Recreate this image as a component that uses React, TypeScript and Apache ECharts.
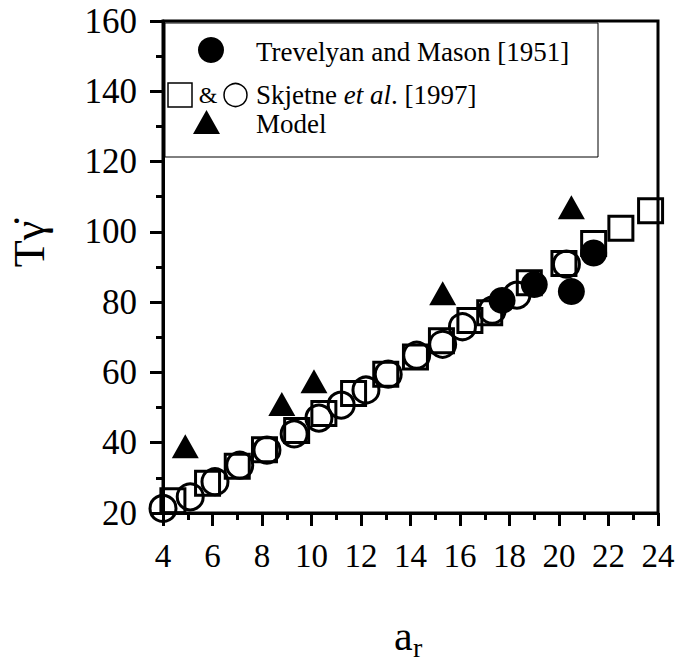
import React, { useEffect, useRef } from "react";
import * as echarts from "echarts";

// Skjetne et al. [1997] – open squares
const skjetneSquares: number[][] = [
  [4.4, 23.5], [5.8, 28.5], [7.0, 33.3], [8.1, 38], [9.4, 43.5], [10.5, 48.3],
  [11.7, 54], [13.0, 59.5], [14.2, 64.4], [15.25, 69], [16.4, 74.8], [17.2, 77],
  [18.8, 85.5], [20.2, 91], [21.4, 96.7], [22.5, 101], [23.7, 106],
];
// Skjetne et al. [1997] – open circles
const skjetneCircles: number[][] = [
  [4.0, 21.3], [5.1, 24.6], [6.1, 28.9], [7.1, 33.6], [8.2, 37.9], [9.3, 42.5],
  [10.3, 47], [11.2, 50.7], [12.2, 55], [13.1, 59.5], [14.25, 64.9], [15.3, 68],
  [16.1, 73], [17.3, 77.7], [18.3, 82], [20.3, 90.8],
];
// Trevelyan and Mason [1951] – filled circles
const trevelyan: number[][] = [[17.7, 80.5], [19.0, 85], [20.5, 83], [21.4, 94]];
// Model – filled triangles
const model: number[][] = [[4.9, 39], [8.8, 51], [10.1, 57.5], [15.3, 82.5], [20.5, 107]];

const xRange = { min: 4, max: 24, interval: 2 };
const yRange = { min: 20, max: 160, interval: 20 };

const legendLabels = ["Trevelyan and Mason [1951]", "Skjetne", "et al", ". [1997]", "Model"];

const FONT = "Liberation Serif, Times New Roman, serif";

export default function App() {
  const ref = useRef<HTMLDivElement>(null);
  useEffect(() => {
    if (!ref.current) return;
    const chart = echarts.init(ref.current, undefined, { renderer: "svg" });
    const axisCommon = {
      type: "value" as const,
      axisLine: { show: true, onZero: false, lineStyle: { color: "#000", width: 3 } },
      axisTick: { show: true, length: 13, lineStyle: { color: "#000", width: 3 } },
      minorTick: { show: true, splitNumber: 2, length: 7, lineStyle: { color: "#000", width: 3 } },
      splitLine: { show: false },
      minorSplitLine: { show: false },
    };
    const openStyle = { color: "rgba(0,0,0,0)", borderColor: "#000", borderWidth: 3, opacity: 1 };
    chart.setOption({
      animation: false,
      backgroundColor: "#fff",
      grid: { left: 163, right: 20, top: 21, bottom: 149, show: true, borderColor: "#000", borderWidth: 3, backgroundColor: "transparent" },
      xAxis: {
        ...axisCommon,
        ...xRange,
        axisLabel: { fontFamily: FONT, fontSize: 33, color: "#000", margin: 26 },
      },
      yAxis: {
        ...axisCommon,
        ...yRange,
        axisLabel: { fontFamily: FONT, fontSize: 35, color: "#000", margin: 26 },
      },
      series: [
        { type: "scatter", data: skjetneSquares, symbol: "rect", symbolSize: 24, itemStyle: openStyle, z: 2 },
        { type: "scatter", data: skjetneCircles, symbol: "circle", symbolSize: 26, itemStyle: openStyle, z: 3 },
        { type: "scatter", data: trevelyan, symbol: "circle", symbolSize: 27, itemStyle: { color: "#000", opacity: 1 }, z: 4 },
        { type: "scatter", data: model, symbol: "triangle", symbolSize: [27, 24], itemStyle: { color: "#000", opacity: 1 }, z: 5 },
      ],
      graphic: [
        {
          type: "rect", z: 10,
          shape: { x: 165, y: 23, width: 433, height: 134 },
          style: { fill: "#fff", stroke: "#000", lineWidth: 1 },
        },
        { type: "circle", z: 11, shape: { cx: 211, cy: 50, r: 13 }, style: { fill: "#000" } },
        {
          type: "text", z: 11, x: 256, y: 52,
          style: { text: legendLabels[0], fontFamily: FONT, fontSize: 27, fill: "#000", verticalAlign: "middle", align: "left" },
        },
        { type: "rect", z: 11, shape: { x: 168, y: 83, width: 24, height: 24 }, style: { fill: "none", stroke: "#000", lineWidth: 1.5 } },
        {
          type: "text", z: 11, x: 208, y: 95,
          style: { text: "&", fontFamily: FONT, fontSize: 24, fill: "#000", verticalAlign: "middle", align: "center" },
        },
        { type: "circle", z: 11, shape: { cx: 235.5, cy: 95, r: 11.5 }, style: { fill: "none", stroke: "#000", lineWidth: 1.5 } },
        {
          type: "text", z: 11, x: 256, y: 95,
          style: {
            text: `{n|${legendLabels[1]} }{i|${legendLabels[2]}}{n|${legendLabels[3]}}`,
            verticalAlign: "middle", align: "left",
            rich: {
              n: { fontFamily: FONT, fontSize: 27, fill: "#000" },
              i: { fontFamily: FONT, fontSize: 27, fill: "#000", fontStyle: "italic" },
            },
          },
        },
        { type: "polygon", z: 11, shape: { points: [[206.5, 110], [220, 134], [193, 134]] }, style: { fill: "#000" } },
        {
          type: "text", z: 11, x: 256, y: 124,
          style: { text: legendLabels[4], fontFamily: FONT, fontSize: 27, fill: "#000", verticalAlign: "middle", align: "left" },
        },
        {
          type: "text", x: 29, y: 244, rotation: Math.PI / 2,
          style: { text: "T\u03B3\u0307", fontFamily: FONT, fontSize: 44, fill: "#000", verticalAlign: "middle", align: "center" },
        },
        {
          type: "text", x: 394, y: 636,
          style: { text: "a", fontFamily: FONT, fontSize: 42, fill: "#000", verticalAlign: "middle", align: "left" },
        },
        {
          type: "text", x: 413, y: 647,
          style: { text: "r", fontFamily: FONT, fontSize: 28, fill: "#000", verticalAlign: "middle", align: "left" },
        },
      ],
    });
    return () => chart.dispose();
  }, []);
  return <div ref={ref} style={{ position: "fixed", left: 0, top: 0, width: 678, height: 662 }} />;
}
